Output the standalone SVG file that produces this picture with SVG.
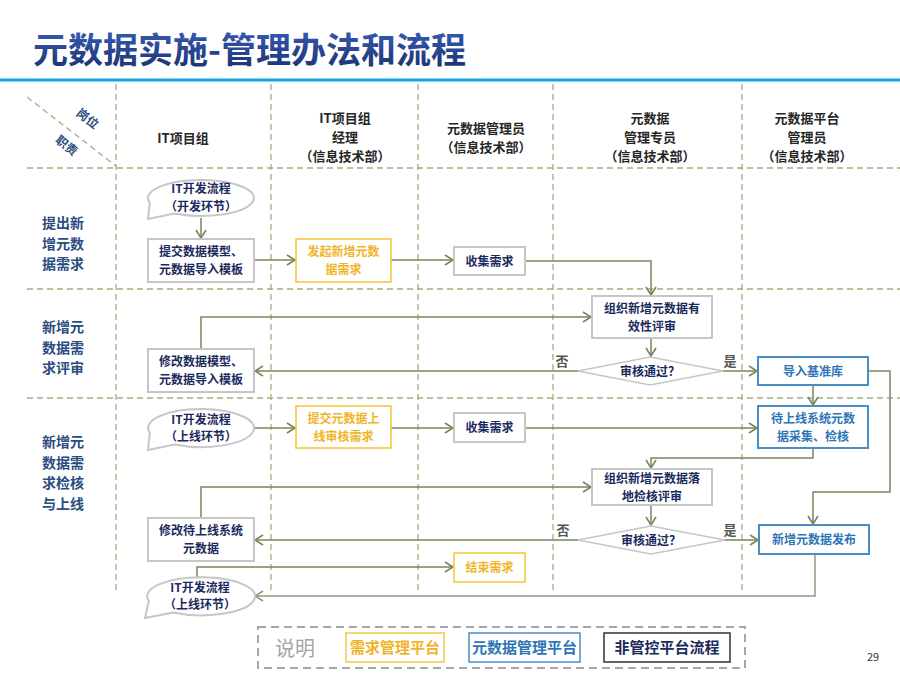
<svg xmlns="http://www.w3.org/2000/svg" width="900" height="675" viewBox="0 0 900 675">
<defs>
<linearGradient id="tg" x1="0" y1="0" x2="0" y2="1">
<stop offset="0" stop-color="#3b63bd"/>
<stop offset="1" stop-color="#1a2f6e"/>
</linearGradient>
<marker id="ar" markerUnits="userSpaceOnUse" markerWidth="12" markerHeight="12" viewBox="0 0 12 12" refX="10" refY="6" orient="auto">
<path d="M2,1 L10,6 L2,11" fill="none" stroke="#77865b" stroke-width="1.6"/>
</marker>
<marker id="arg" markerUnits="userSpaceOnUse" markerWidth="12" markerHeight="12" viewBox="0 0 12 12" refX="10" refY="6" orient="auto">
<path d="M2,1 L10,6 L2,11" fill="none" stroke="#8e9a80" stroke-width="1.6"/>
</marker>
<style>
text{font-family:"Noto Sans CJK SC","Liberation Sans",sans-serif;}
.grid{stroke:#a3af80;stroke-width:1.3;stroke-dasharray:6,4;fill:none;}
.hdr{font-size:13px;font-weight:bold;fill:#262626;text-anchor:middle;}
.row{font-size:14px;font-weight:bold;fill:#2b4c7e;text-anchor:middle;}
.crn{font-size:12px;font-weight:bold;fill:#2b4c7e;text-anchor:middle;}
.nt{font-size:12px;font-weight:bold;fill:#1b2a5c;text-anchor:middle;}
.yt{font-size:12px;font-weight:bold;fill:#f0b429;text-anchor:middle;}
.bt{font-size:12px;font-weight:bold;fill:#2e75b6;text-anchor:middle;}
.gbox{fill:#fff;stroke:#c6c6c6;stroke-width:2;}
.ybox{fill:#fff;stroke:#f6c744;stroke-width:1.6;}
.bbox{fill:#fff;stroke:#4a8ec6;stroke-width:2;}
.con{fill:none;stroke:#77865b;stroke-width:1.5;marker-end:url(#ar);}
.yn{font-size:13px;font-weight:bold;fill:#555;text-anchor:middle;}
</style>
</defs>
<rect width="900" height="675" fill="#fff"/>
<text x="33" y="63" font-size="35" font-weight="bold" fill="url(#tg)">元数据实施-管理办法和流程</text>
<line x1="0" y1="80" x2="900" y2="80" stroke="#1ba1e2" stroke-width="3"/>
<g id="grid">
<line class="grid" x1="116" y1="84" x2="116" y2="590"/>
<line class="grid" x1="271" y1="84" x2="271" y2="590"/>
<line class="grid" x1="418" y1="84" x2="418" y2="590"/>
<line class="grid" x1="553" y1="84" x2="553" y2="590"/>
<line class="grid" x1="742" y1="84" x2="742" y2="590"/>
<line class="grid" x1="27" y1="168" x2="900" y2="168"/>
<line class="grid" x1="27" y1="289" x2="900" y2="289"/>
<line class="grid" x1="27" y1="398" x2="900" y2="398"/>
<line class="grid" x1="27" y1="97" x2="116" y2="166"/>
</g>
<g id="headers">
<text class="crn" transform="translate(85,122) rotate(38)">岗位</text>
<text class="crn" transform="translate(64,149) rotate(38)">职责</text>
<text class="hdr" x="183" y="143">IT项目组</text>
<text class="hdr" x="345" y="123">IT项目组</text>
<text class="hdr" x="345" y="142">经理</text>
<text class="hdr" x="345" y="161">（信息技术部）</text>
<text class="hdr" x="486" y="133">元数据管理员</text>
<text class="hdr" x="486" y="152">（信息技术部）</text>
<text class="hdr" x="650" y="123">元数据</text>
<text class="hdr" x="650" y="142">管理专员</text>
<text class="hdr" x="650" y="161">（信息技术部）</text>
<text class="hdr" x="807" y="123">元数据平台</text>
<text class="hdr" x="807" y="142">管理员</text>
<text class="hdr" x="807" y="161">（信息技术部）</text>
</g>
<g id="rowlabels">
<text class="row" x="63" y="228">提出新</text>
<text class="row" x="63" y="248.5">增元数</text>
<text class="row" x="63" y="269">据需求</text>
<text class="row" x="63" y="332">新增元</text>
<text class="row" x="63" y="352.5">数据需</text>
<text class="row" x="63" y="373">求评审</text>
<text class="row" x="63" y="447">新增元</text>
<text class="row" x="63" y="467.5">数据需</text>
<text class="row" x="63" y="488">求检核</text>
<text class="row" x="63" y="508.5">与上线</text>
</g>
<g id="connectors">
<path class="con" d="M201,218 L201,238"/>
<path class="con" d="M254,260 L295,260"/>
<path class="con" d="M391,260 L453,260"/>
<path class="con" d="M525,261 L651,261 L651,295"/>
<path class="con" d="M651,338 L651,356"/>
<path class="con" d="M578,371 L255,371"/>
<path class="con" d="M201,349 L201,317 L591,317"/>
<path class="con" d="M723,371 L757,371"/>
<path class="con" d="M813,385 L813,405"/>
<path class="con" d="M868,371 L890,371 L890,492 L813,492 L813,524"/>
<path class="con" d="M254,428 L295,428"/>
<path class="con" d="M391,428 L453,428"/>
<path class="con" d="M525,428 L757,428"/>
<path class="con" d="M813,448 L813,458 L651,458 L651,468"/>
<path class="con" d="M201,518 L201,487 L591,487"/>
<path class="con" d="M651,505 L651,525"/>
<path class="con" d="M578,540 L255,540"/>
<path class="con" d="M725,540 L758,540"/>
<path class="con" d="M815,554 L815,596 L255,596" style="stroke:#8e9a80;marker-end:url(#arg)"/>
<path class="con" d="M197,578 L197,567 L453,567"/>
<text class="yn" x="562" y="366">否</text>
<text class="yn" x="730" y="366">是</text>
<text class="yn" x="563" y="535">否</text>
<text class="yn" x="730" y="535">是</text>
</g>
<g id="callout_dev">
<path class="gbox" d="M149.8,202.7 A53,18 0 1 1 174.5,213.6 L148,219 Z"/>
<text class="nt" x="201" y="193">IT开发流程</text>
<text class="nt" x="201" y="210.5">（开发环节）</text>
</g>
<g id="submit_model">
<rect class="gbox" x="148" y="239" width="106" height="43"/>
<text class="nt" x="201" y="256">提交数据模型、</text>
<text class="nt" x="201" y="274">元数据导入模板</text>
</g>
<g id="initiate_req">
<rect class="ybox" x="296" y="239" width="95" height="43"/>
<text class="yt" x="343.5" y="256">发起新增元数</text>
<text class="yt" x="343.5" y="274">据需求</text>
</g>
<g id="collect1">
<rect class="gbox" x="454" y="247" width="71" height="28"/>
<text class="nt" x="489.5" y="265.5">收集需求</text>
</g>
<g id="review1">
<rect class="gbox" x="592" y="296" width="120" height="42"/>
<text class="nt" x="652" y="313">组织新增元数据有</text>
<text class="nt" x="652" y="331">效性评审</text>
</g>
<g id="decision1">
<polygon class="gbox" points="578,371 650,357 723,371 650,385" style="stroke-width:1.5"/>
<text class="nt" x="650" y="375.5">审核通过？</text>
</g>
<g id="modify1">
<rect class="gbox" x="148" y="349" width="106" height="43"/>
<text class="nt" x="201" y="366">修改数据模型、</text>
<text class="nt" x="201" y="384">元数据导入模板</text>
</g>
<g id="import_base">
<rect class="bbox" x="758" y="357" width="110" height="28"/>
<text class="bt" x="813" y="375.5">导入基准库</text>
</g>
<g id="callout_online1">
<path class="gbox" d="M149.8,432.9 A53,19 0 1 1 174.5,444.5 L148,450 Z"/>
<text class="nt" x="201" y="423.5">IT开发流程</text>
<text class="nt" x="201" y="441">（上线环节）</text>
</g>
<g id="submit_online">
<rect class="ybox" x="296" y="406" width="95" height="42"/>
<text class="yt" x="343.5" y="423">提交元数据上</text>
<text class="yt" x="343.5" y="441">线审核需求</text>
</g>
<g id="collect2">
<rect class="gbox" x="454" y="413" width="71" height="29"/>
<text class="nt" x="489.5" y="432">收集需求</text>
</g>
<g id="collect_check">
<rect class="bbox" x="758" y="406" width="110" height="42"/>
<text class="bt" x="813" y="423">待上线系统元数</text>
<text class="bt" x="813" y="441">据采集、检核</text>
</g>
<g id="review2">
<rect class="gbox" x="592" y="469" width="120" height="36"/>
<text class="nt" x="652" y="483">组织新增元数据落</text>
<text class="nt" x="652" y="501">地检核评审</text>
</g>
<g id="decision2">
<polygon class="gbox" points="578,540 651,526 725,540 651,554" style="stroke-width:1.5"/>
<text class="nt" x="651" y="544.5">审核通过？</text>
</g>
<g id="modify2">
<rect class="gbox" x="148" y="518" width="106" height="43"/>
<text class="nt" x="201" y="535">修改待上线系统</text>
<text class="nt" x="201" y="553">元数据</text>
</g>
<g id="publish">
<rect class="bbox" x="759" y="525" width="110" height="29"/>
<text class="bt" x="814" y="543.5">新增元数据发布</text>
</g>
<g id="end_req">
<rect class="ybox" x="454" y="553" width="71" height="29"/>
<text class="yt" x="489.5" y="571.5">结束需求</text>
</g>
<g id="callout_online2">
<path class="gbox" d="M148.8,600.9 A54,19 0 1 1 173,612.5 L145,618 Z"/>
<text class="nt" x="200" y="591.5">IT开发流程</text>
<text class="nt" x="200" y="609">（上线环节）</text>
</g>
<g id="legend">
<rect x="258" y="627" width="487" height="41" fill="none" stroke="#a6a6a6" stroke-width="2" stroke-dasharray="8,5"/>
<text x="275" y="656" font-size="20" fill="#a6a6a6">说明</text>
<rect x="346" y="633" width="98" height="29" fill="#fff" stroke="#f6c744" stroke-width="1.5"/>
<text x="395" y="653" font-size="15" font-weight="bold" fill="#f0b429" text-anchor="middle">需求管理平台</text>
<rect x="469" y="633" width="111" height="29" fill="#fff" stroke="#4a8ec6" stroke-width="1.5"/>
<text x="524.5" y="653" font-size="15" font-weight="bold" fill="#2e75b6" text-anchor="middle">元数据管理平台</text>
<rect x="604" y="633" width="126" height="29" fill="#fff" stroke="#333" stroke-width="1.5"/>
<text x="667" y="653" font-size="15" font-weight="bold" fill="#1b2a5c" text-anchor="middle">非管控平台流程</text>
</g>
<text x="873" y="661" font-size="11" fill="#333" text-anchor="middle">29</text>
</svg>
